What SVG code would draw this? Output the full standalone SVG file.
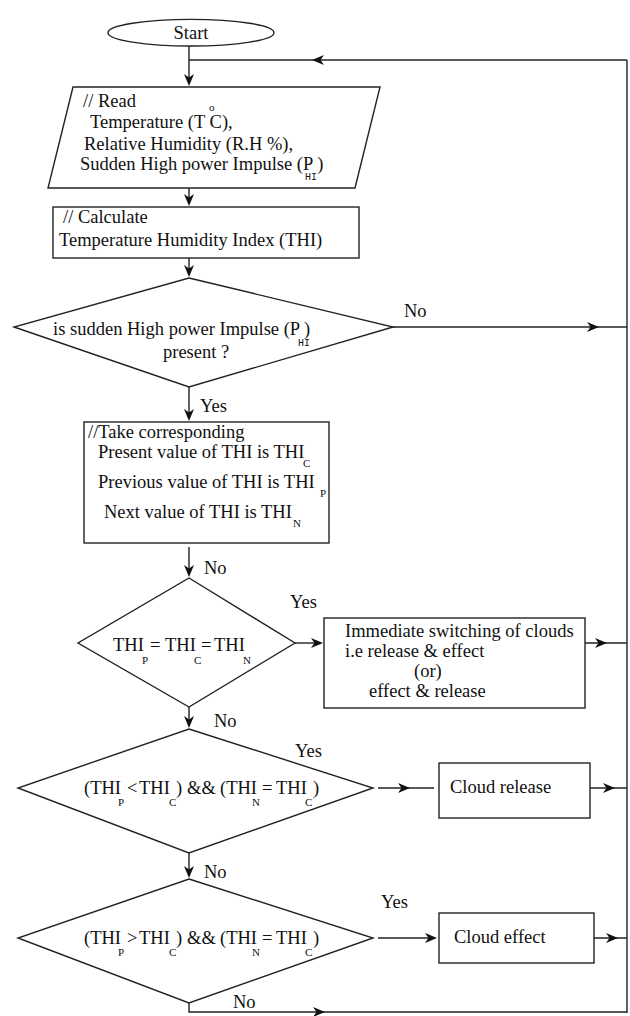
<svg xmlns="http://www.w3.org/2000/svg" width="630" height="1016" viewBox="0 0 630 1016">
<style>
  text { font-size: 18.5px; fill: #111; }
  text.sub { font-size: 11px; }
  text.mono { font-size: 10px; }
  .shape { fill: #fff; stroke: #222; stroke-width: 1.4; }
  .line { fill: none; stroke: #222; stroke-width: 1.4; }
  .head { fill: #111; stroke: none; }
</style>

<g id="connectors">
  <path class="line" d="M189,46 L189,80"/>
  <path class="line" d="M627,60 L189,60"/>
  <path class="line" d="M627,60 L627,1013"/>
  <path class="line" d="M189,188 L189,200"/>
  <path class="line" d="M189,258 L189,271"/>
  <path class="line" d="M393,327 L627,327"/>
  <path class="line" d="M189,387 L189,415"/>
  <path class="line" d="M189,547 L189,571"/>
  <path class="line" d="M295,643 L318,643"/>
  <path class="line" d="M585,643 L627,643"/>
  <path class="line" d="M189,707 L189,722"/>
  <path class="line" d="M378,788 L434,788"/>
  <path class="line" d="M590,788 L627,788"/>
  <path class="line" d="M189,853 L189,872"/>
  <path class="line" d="M378,938 L432,938"/>
  <path class="line" d="M594,938 L627,938"/>
  <path class="line" d="M189,1003 L189,1012 L627,1012"/>
  <polygon class="head" points="189,86 184,74 189,77.5 194,74"/>
  <polygon class="head" points="312,60 324,55 320.5,60 324,65"/>
  <polygon class="head" points="189,206 184,194 189,197.5 194,194"/>
  <polygon class="head" points="189,277 184,265 189,268.5 194,265"/>
  <polygon class="head" points="599,327 587,322 590.5,327 587,332"/>
  <polygon class="head" points="189,421 184,409 189,412.5 194,409"/>
  <polygon class="head" points="189,577 184,565 189,568.5 194,565"/>
  <polygon class="head" points="323,643 311,638 314.5,643 311,648"/>
  <polygon class="head" points="607,643 595,638 598.5,643 595,648"/>
  <polygon class="head" points="189,728 184,716 189,719.5 194,716"/>
  <polygon class="head" points="410,788 398,783 401.5,788 398,793"/>
  <polygon class="head" points="615,788 603,783 606.5,788 603,793"/>
  <polygon class="head" points="189,878 184,866 189,869.5 194,866"/>
  <polygon class="head" points="437,938 425,933 428.5,938 425,943"/>
  <polygon class="head" points="618,938 606,933 609.5,938 606,943"/>
  <polygon class="head" points="325,1012 313,1007 316.5,1012 313,1017"/>
  <text font-family="Liberation Serif" x="404" y="317">No</text>
  <text font-family="Liberation Serif" x="200" y="412">Yes</text>
  <text font-family="Liberation Serif" x="204" y="574">No</text>
  <text font-family="Liberation Serif" x="290" y="608">Yes</text>
  <text font-family="Liberation Serif" x="214" y="727">No</text>
  <text font-family="Liberation Serif" x="295" y="757">Yes</text>
  <text font-family="Liberation Serif" x="204" y="878">No</text>
  <text font-family="Liberation Serif" x="381" y="908">Yes</text>
  <text font-family="Liberation Serif" x="233" y="1008">No</text>
</g>

<g id="start">
  <ellipse class="shape" cx="191" cy="32.7" rx="83" ry="13.3"/>
  <text font-family="Liberation Serif" x="191" y="39" text-anchor="middle">Start</text>
</g>

<g id="read">
  <polygon class="shape" points="73,87 380,87 355,188 48,188"/>
  <text font-family="Liberation Serif" x="83" y="107">// Read</text>
  <text font-family="Liberation Serif" x="90" y="128">Temperature (T C),</text>
  <text font-family="Liberation Serif" x="209" y="111" class="sub">o</text>
  <text font-family="Liberation Serif" x="84" y="150">Relative Humidity (R.H %),</text>
  <text font-family="Liberation Serif" x="80" y="170">Sudden High power Impulse (P )</text>
  <text font-family="Liberation Mono" x="305" y="180" class="mono">HI</text>
</g>

<g id="calc">
  <rect class="shape" x="53" y="207" width="306" height="51"/>
  <text font-family="Liberation Serif" x="63" y="223">// Calculate</text>
  <text font-family="Liberation Serif" x="59" y="246">Temperature Humidity Index (THI)</text>
</g>

<g id="decision1">
  <polygon class="shape" points="189,278 393,327 189,387 14,327"/>
  <text font-family="Liberation Serif" x="53" y="335">is sudden High power Impulse (P )</text>
  <text font-family="Liberation Mono" x="298" y="346" class="mono">HI</text>
  <text font-family="Liberation Serif" x="163" y="358">present ?</text>
</g>

<g id="take">
  <rect class="shape" x="84" y="422" width="245" height="121"/>
  <text font-family="Liberation Serif" x="88" y="438">//Take corresponding</text>
  <text font-family="Liberation Serif" x="98" y="458">Present value of THI is THI</text>
  <text font-family="Liberation Serif" x="303" y="467" class="sub">C</text>
  <text font-family="Liberation Serif" x="98" y="488">Previous value of THI is THI</text>
  <text font-family="Liberation Serif" x="320" y="497" class="sub">P</text>
  <text font-family="Liberation Serif" x="104" y="518">Next value of THI is THI</text>
  <text font-family="Liberation Serif" x="293" y="527" class="sub">N</text>
</g>

<g id="decision2">
  <polygon class="shape" points="189,578 295,643 189,707 78,643"/>
  <text font-family="Liberation Serif" x="113" y="651">THI</text>
  <text font-family="Liberation Serif" x="142" y="664" class="sub">P</text>
  <text font-family="Liberation Serif" x="150" y="651">=</text>
  <text font-family="Liberation Serif" x="165" y="651">THI</text>
  <text font-family="Liberation Serif" x="194" y="664" class="sub">C</text>
  <text font-family="Liberation Serif" x="201" y="651">=</text>
  <text font-family="Liberation Serif" x="214" y="651">THI</text>
  <text font-family="Liberation Serif" x="243" y="664" class="sub">N</text>
</g>

<g id="immediate">
  <rect class="shape" x="324" y="618" width="261" height="90"/>
  <text font-family="Liberation Serif" x="345" y="637">Immediate switching of clouds</text>
  <text font-family="Liberation Serif" x="345" y="657">i.e release &amp; effect</text>
  <text font-family="Liberation Serif" x="414" y="677">(or)</text>
  <text font-family="Liberation Serif" x="369" y="697">effect &amp; release</text>
</g>

<g id="decision3">
  <polygon class="shape" points="189,729 373,788 189,853 18,788"/>
  <text font-family="Liberation Serif" x="84" y="794">(THI</text>
  <text font-family="Liberation Serif" x="118" y="806" class="sub">P</text>
  <text font-family="Liberation Serif" x="127" y="794">&lt;</text>
  <text font-family="Liberation Serif" x="139" y="794">THI</text>
  <text font-family="Liberation Serif" x="169" y="806" class="sub">C</text>
  <text font-family="Liberation Serif" x="176" y="794">)</text>
  <text font-family="Liberation Serif" x="187" y="794">&amp;&amp;</text>
  <text font-family="Liberation Serif" x="220" y="794">(THI</text>
  <text font-family="Liberation Serif" x="252" y="806" class="sub">N</text>
  <text font-family="Liberation Serif" x="262" y="794">=</text>
  <text font-family="Liberation Serif" x="276" y="794">THI</text>
  <text font-family="Liberation Serif" x="305" y="806" class="sub">C</text>
  <text font-family="Liberation Serif" x="313" y="794">)</text>
</g>

<g id="release">
  <rect class="shape" x="439" y="763" width="151" height="55"/>
  <text font-family="Liberation Serif" x="450" y="793">Cloud release</text>
</g>

<g id="decision4">
  <polygon class="shape" points="189,879 373,938 189,1003 18,938"/>
  <text font-family="Liberation Serif" x="84" y="944">(THI</text>
  <text font-family="Liberation Serif" x="118" y="956" class="sub">P</text>
  <text font-family="Liberation Serif" x="127" y="944">&gt;</text>
  <text font-family="Liberation Serif" x="139" y="944">THI</text>
  <text font-family="Liberation Serif" x="169" y="956" class="sub">C</text>
  <text font-family="Liberation Serif" x="176" y="944">)</text>
  <text font-family="Liberation Serif" x="187" y="944">&amp;&amp;</text>
  <text font-family="Liberation Serif" x="220" y="944">(THI</text>
  <text font-family="Liberation Serif" x="252" y="956" class="sub">N</text>
  <text font-family="Liberation Serif" x="262" y="944">=</text>
  <text font-family="Liberation Serif" x="276" y="944">THI</text>
  <text font-family="Liberation Serif" x="305" y="956" class="sub">C</text>
  <text font-family="Liberation Serif" x="313" y="944">)</text>
</g>

<g id="effect">
  <rect class="shape" x="439" y="913" width="155" height="50"/>
  <text font-family="Liberation Serif" x="454" y="943">Cloud effect</text>
</g>
</svg>
